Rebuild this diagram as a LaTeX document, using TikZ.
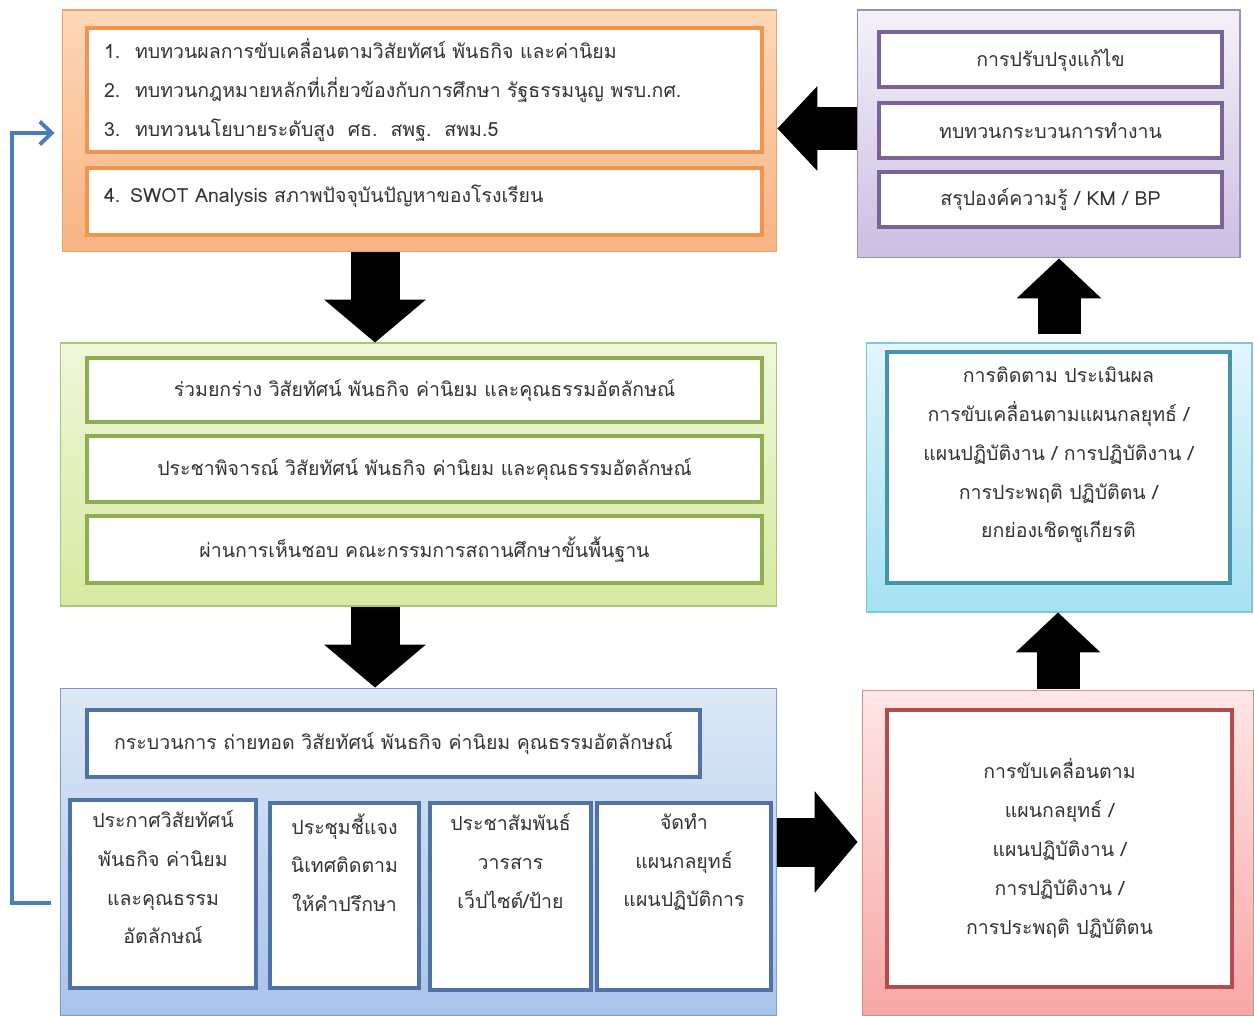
\documentclass[tikz,border=0pt]{standalone}
\usepackage{fontspec}
\newfontfamily\thaifont[Script=Thai]{Loma}
\usetikzlibrary{positioning,arrows.meta}
\definecolor{orangetop}{HTML}{FDD7B8}
\definecolor{orangebot}{HTML}{F8B483}
\definecolor{orangeline}{HTML}{F0954D}
\definecolor{orangeedge}{HTML}{E8A36C}
\definecolor{purpletop}{HTML}{F4F1F9}
\definecolor{purplebot}{HTML}{CBBEE2}
\definecolor{purpleline}{HTML}{7A6396}
\definecolor{purpleedge}{HTML}{9E8DB8}
\definecolor{greentop}{HTML}{EFF7D9}
\definecolor{greenbot}{HTML}{D5EAA1}
\definecolor{greenline}{HTML}{8FAE52}
\definecolor{greenedge}{HTML}{A9C679}
\definecolor{cyantop}{HTML}{E3F5FB}
\definecolor{cyanbot}{HTML}{A6E1F3}
\definecolor{cyanline}{HTML}{4696AB}
\definecolor{cyanedge}{HTML}{7FC6DA}
\definecolor{bluetop}{HTML}{DEE8F6}
\definecolor{bluebot}{HTML}{A8C3EA}
\definecolor{blueline}{HTML}{4F73A6}
\definecolor{blueedge}{HTML}{7E9CCB}
\definecolor{redtop}{HTML}{FFE6E6}
\definecolor{redbot}{HTML}{F7A6A6}
\definecolor{redline}{HTML}{B74A4D}
\definecolor{rededge}{HTML}{D98A8A}
\definecolor{backline}{HTML}{4A7EBB}
\tikzset{
  panel/.style={rectangle,draw=#1edge,line width=0.6pt,top color=#1top,bottom color=#1bot},
  ibox/.style={rectangle,draw=#1line,line width=0.08cm,fill=white,align=center,
    font=\thaifont\fontsize{11.1}{22.1}\selectfont,text=black!80},
  itext/.style={align=center,font=\thaifont\fontsize{11.1}{22.1}\selectfont,text=black!80,inner sep=0pt},
  bigarrow/.style={line width=0.98cm,-{Triangle[length=0.86cm,width=2.04cm,line width=0pt 0 0]}},
  sidearrow/.style={line width=0.86cm,-{Triangle[length=0.8cm,width=1.7cm,line width=0pt 0 0]}},
  feedback/.style={draw=backline,line width=2.2pt,-{Straight Barb[length=0.24cm,width=0.46cm]}}
}

\begin{document}
\begin{tikzpicture}[x=0.02cm,y=-0.02cm]
\useasboundingbox (0,0) rectangle (1254,1016);

% outer panels
\node[panel=orange,minimum width=14.3cm,minimum height=4.84cm] (orange) at (419.5,131) {};
\node[panel=purple,minimum width=7.66cm,minimum height=4.96cm] (purple) at (1048.5,134) {};
\node[panel=green,minimum width=14.34cm,minimum height=5.26cm] (green) at (418.5,474.5) {};
\node[panel=cyan,minimum width=7.72cm,minimum height=5.38cm] (cyan) at (1059,477.5) {};
\node[panel=blue,minimum width=14.34cm,minimum height=6.56cm] (blue) at (418.5,852) {};
\node[panel=red,minimum width=7.84cm,minimum height=6.52cm] (red) at (1058,853) {};

% review
\node[ibox=orange,align=left,text width=12.82cm,inner xsep=0.34cm,minimum height=2.48cm] (o1) at (424.5,90)
{\makebox[0.62cm][l]{1.}ทบทวนผลการขับเคลื่อนตามวิสัยทัศน์ พันธกิจ และค่านิยม\\
 \makebox[0.62cm][l]{2.}ทบทวนกฎหมายหลักที่เกี่ยวข้องกับการศึกษา รัฐธรรมนูญ พรบ.กศ.\\
 \makebox[0.62cm][l]{3.}ทบทวนนโยบายระดับสูง\ \ ศธ.\ \ สพฐ.\ \ สพม.5};
\node[ibox=orange,align=left,text width=12.82cm,inner xsep=0.34cm,minimum height=1.34cm,text depth=0.32cm] (o2) at (424.5,201.5)
{4. SWOT Analysis สภาพปัจจุบันปัญหาของโรงเรียน};

\node[ibox=purple,minimum width=6.86cm,minimum height=1.1cm] (p1) at (1050.5,60) {การปรับปรุงแก้ไข};
\node[ibox=purple,minimum width=6.86cm,minimum height=1.1cm] (p2) at (1050.5,131) {ทบทวนกระบวนการทำงาน};
\node[ibox=purple,minimum width=6.86cm,minimum height=1.1cm] (p3) at (1050.5,199.5) {สรุปองค์ความรู้ / KM / BP};

% drafting
\node[ibox=green,minimum width=13.5cm,minimum height=1.3cm] (g1) at (424.5,390)
{ร่วมยกร่าง วิสัยทัศน์ พันธกิจ ค่านิยม และคุณธรรมอัตลักษณ์};
\node[ibox=green,minimum width=13.5cm,minimum height=1.32cm] (g2) at (424.5,469)
{ประชาพิจารณ์ วิสัยทัศน์ พันธกิจ ค่านิยม และคุณธรรมอัตลักษณ์};
\node[ibox=green,minimum width=13.5cm,minimum height=1.34cm] (g3) at (424.5,549.5)
{ผ่านการเห็นชอบ คณะกรรมการสถานศึกษาขั้นพื้นฐาน};

\node[ibox=cyan,minimum width=6.86cm,minimum height=4.62cm] (cybox) at (1058.5,467.5) {};
\node[itext] (cytext) at ([yshift=0.25cm]cybox.center)
{การติดตาม ประเมินผล\\การขับเคลื่อนตามแผนกลยุทธ์ /\\แผนปฏิบัติงาน / การปฏิบัติงาน /\\การประพฤติ ปฏิบัติตน /\\ยกย่องเชิดชูเกียรติ};

% transfer
\node[ibox=blue,minimum width=12.26cm,minimum height=1.34cm] (b0) at (393.5,743.5)
{กระบวนการ ถ่ายทอด วิสัยทัศน์ พันธกิจ ค่านิยม คุณธรรมอัตลักษณ์};
\node[ibox=blue,minimum width=3.72cm,minimum height=3.76cm] (c1) at (163,894) {};
\node[ibox=blue,minimum width=2.98cm,minimum height=3.7cm] (c2) at (344.5,895.5) {};
\node[ibox=blue,minimum width=3.22cm,minimum height=3.74cm] (c3) at (510.5,896.5) {};
\node[ibox=blue,minimum width=3.48cm,minimum height=3.74cm] (c4) at (684,896.5) {};
\node[itext,below=0.24cm of c1.north] (c1text) {ประกาศวิสัยทัศน์\\พันธกิจ ค่านิยม\\และคุณธรรม\\อัตลักษณ์};
\node[itext,below=0.24cm of c2.north] (c2text) {ประชุมชี้แจง\\นิเทศติดตาม\\ให้คำปรึกษา};
\node[itext,below=0.24cm of c3.north] (c3text) {ประชาสัมพันธ์\\วารสาร\\เว็ปไซต์/ป้าย};
\node[itext,below=0.24cm of c4.north] (c4text) {จัดทำ\\แผนกลยุทธ์\\แผนปฏิบัติการ};

\node[ibox=red,minimum width=6.9cm,minimum height=5.54cm] (rbox) at (1059.5,848.5)
{การขับเคลื่อนตาม\\แผนกลยุทธ์ /\\แผนปฏิบัติงาน /\\การปฏิบัติงาน /\\การประพฤติ ปฏิบัติตน};

% block arrows
\draw[bigarrow] ([xshift=-0.89cm]orange.south) -- ([xshift=-0.89cm]orange.south |- green.north);
\draw[bigarrow] ([xshift=-0.87cm]green.south) -- ([xshift=-0.87cm]green.south |- blue.north);
\draw[bigarrow,shorten >=0.08cm] ([yshift=0.2cm]blue.east) -- ([yshift=0.2cm]blue.east -| red.west);
\draw[sidearrow,shorten <=0.02cm] (red.north) -- (red.north |- cyan.south);
\draw[sidearrow,shorten <=0.16cm] (cyan.north) -- (cyan.north |- purple.south);
\draw[sidearrow] ([yshift=0.11cm]purple.west) -- ([yshift=0.11cm]purple.west -| orange.east);

% back to review
\coordinate (turn) at (12,133);
\draw[feedback,shorten <=0.34cm,shorten >=0.14cm] ([yshift=-0.18cm]c1.west) -| (turn) -- (turn -| orange.west);
\end{tikzpicture}
\end{document}
